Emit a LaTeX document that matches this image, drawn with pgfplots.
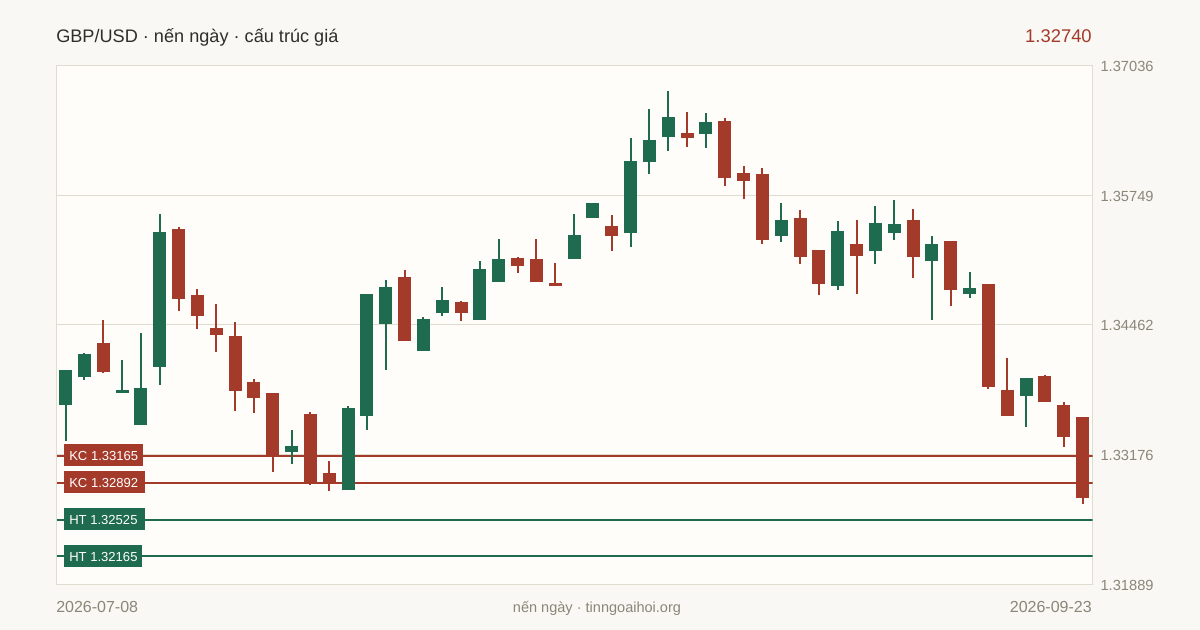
\documentclass[border=0pt]{standalone}
\usepackage{fontspec}
\setmainfont{Liberation Sans}
\usepackage{pgfplots}
\usepackage{pgfplotstable}
\pgfplotsset{compat=1.18}
\definecolor{bgc}{HTML}{F9F8F4}
\definecolor{plotc}{HTML}{FFFDF9}
\definecolor{gridc}{HTML}{E0DCCF}
\definecolor{upc}{HTML}{1E6B50}
\definecolor{downc}{HTML}{A43A2A}
\definecolor{axtext}{HTML}{8A8678}
\definecolor{titlec}{HTML}{2E2E2A}
% x open high low close
\pgfplotstableread{
x o h l c
0 1.33667 1.34014 1.33311 1.34014
1 1.33945 1.34183 1.33915 1.34173
3 1.33786 1.34113 1.33786 1.33816
4 1.33469 1.34381 1.33469 1.33836
5 1.34044 1.35560 1.33865 1.35381
12 1.33202 1.33420 1.33083 1.33261
15 1.32825 1.33657 1.32825 1.33638
16 1.33558 1.34767 1.33420 1.34767
17 1.34470 1.34906 1.34014 1.34836
19 1.34202 1.34539 1.34202 1.34519
20 1.34579 1.34836 1.34549 1.34708
22 1.34509 1.35094 1.34509 1.35015
23 1.34886 1.35312 1.34886 1.35114
27 1.35114 1.35560 1.35114 1.35352
28 1.35520 1.35669 1.35520 1.35669
30 1.35371 1.36313 1.35233 1.36085
31 1.36075 1.36600 1.35956 1.36293
32 1.36323 1.36778 1.36184 1.36521
34 1.36352 1.36560 1.36214 1.36471
38 1.35342 1.35669 1.35282 1.35500
41 1.34846 1.35490 1.34807 1.35391
43 1.35193 1.35640 1.35064 1.35470
44 1.35371 1.35698 1.35302 1.35460
46 1.35094 1.35342 1.34509 1.35262
48 1.34767 1.34985 1.34728 1.34827
51 1.33756 1.33935 1.33449 1.33935
}\upcandles
\pgfplotstableread{
x o h l c
2 1.34282 1.34509 1.33984 1.33994
6 1.35411 1.35431 1.34599 1.34718
7 1.34757 1.34817 1.34420 1.34549
8 1.34430 1.34668 1.34192 1.34361
9 1.34351 1.34490 1.33608 1.33806
10 1.33895 1.33925 1.33588 1.33737
11 1.33786 1.33786 1.33003 1.33162
13 1.33578 1.33598 1.32875 1.32894
14 1.32994 1.33112 1.32815 1.32894
18 1.34936 1.35005 1.34301 1.34301
21 1.34688 1.34698 1.34500 1.34579
24 1.35124 1.35134 1.34975 1.35045
25 1.35114 1.35312 1.34886 1.34886
26 1.34876 1.35074 1.34846 1.34846
29 1.35441 1.35550 1.35193 1.35342
33 1.36362 1.36570 1.36224 1.36313
35 1.36481 1.36511 1.35837 1.35916
36 1.35966 1.36035 1.35708 1.35887
37 1.35956 1.36016 1.35262 1.35302
39 1.35520 1.35599 1.35064 1.35134
40 1.35203 1.35203 1.34757 1.34866
42 1.35262 1.35500 1.34767 1.35144
45 1.35500 1.35609 1.34926 1.35134
47 1.35292 1.35292 1.34648 1.34807
49 1.34866 1.34866 1.33826 1.33846
50 1.33816 1.34133 1.33558 1.33558
52 1.33955 1.33965 1.33697 1.33697
53 1.33667 1.33697 1.33251 1.33350
54 1.33548 1.33548 1.32686 1.32740
}\downcandles
\pgfplotsset{
  candlewick/.style={draw=none, forget plot,
    error bars/.cd, y dir=plus, y explicit, error mark=none,
    error bar style={line width=1.5pt, draw=#1, fill=none, mark=none}},
  candlebody/.style={draw=none, forget plot,
    error bars/.cd, y dir=plus, y explicit, error mark=none,
    error bar style={line width=9.75pt, draw=#1, fill=none, mark=none}},
}
\newcommand{\wicks}[2]{\addplot[candlewick=#2] table[x=x, y=l, y error plus expr={\thisrow{h}-\thisrow{l}}] {#1};}
\newcommand{\bodies}[2]{\addplot[candlebody=#2] table[x=x, y expr={min(\thisrow{o},\thisrow{c})}, y error plus expr={abs(\thisrow{c}-\thisrow{o})}] {#1};}
\begin{document}
\begin{tikzpicture}[x=0.75pt,y=0.75pt]
\fill[bgc] (0,0) rectangle (1200,630);
\begin{axis}[
  at={(42.375pt,34.3pt)}, anchor=south west,
  scale only axis, width=777pt, height=389.25pt,
  xmin=-0.478, xmax=54.53, ymin=1.31889, ymax=1.37036,
  axis background/.style={fill=plotc},
  axis line style={draw=gridc, line width=0.75pt},
  xtick=\empty,
  ytick={1.31889,1.33176,1.34462,1.35749,1.37036},
  yticklabels={1.31889,1.33176,1.34462,1.35749,1.37036},
  yticklabel pos=right,
  tick style={draw=none},
  major tick length=0pt,
  ymajorgrids, grid style={draw=gridc, line width=0.75pt},
  yticklabel style={font=\fontsize{11}{13}\selectfont, text=axtext, anchor=west, xshift=2.5pt, yshift=-0.75pt},
]
\addplot[downc, line width=1.5pt, forget plot] coordinates {(-0.478,1.33165) (54.53,1.33165)};
\addplot[downc, line width=1.5pt, forget plot] coordinates {(-0.478,1.32892) (54.53,1.32892)};
\addplot[upc, line width=1.5pt, forget plot] coordinates {(-0.478,1.32525) (54.53,1.32525)};
\addplot[upc, line width=1.5pt, forget plot] coordinates {(-0.478,1.32165) (54.53,1.32165)};
\wicks{\upcandles}{upc}
\bodies{\upcandles}{upc}
\wicks{\downcandles}{downc}
\bodies{\downcandles}{downc}
\end{axis}
\node[anchor=base west, inner sep=0, text=titlec, font=\fontsize{13.6}{15}\selectfont] at (56,587) {GBP/USD · nến ngày · cấu trúc giá};
\node[anchor=base east, inner sep=0, text=downc, font=\fontsize{13.8}{16}\selectfont] at (1092,587) {1.32740};
\node[anchor=base west, inner sep=0, text=axtext, font=\fontsize{12}{13}\selectfont] at (56,17) {2026-07-08};
\node[anchor=base east, inner sep=0, text=axtext, font=\fontsize{12}{13}\selectfont] at (1092,17) {2026-09-23};
\node[anchor=base, inner sep=0, text=axtext, font=\fontsize{10.9}{13}\selectfont] at (597,17) {nến ngày · tinngoaihoi.org};
\fill[downc] (64,186) rectangle (143,164);
\node[anchor=base west, inner sep=0, text=white, font=\fontsize{9.8}{13}\selectfont] at (69,169.5) {KC 1.33165};
\fill[downc] (64,159) rectangle (145,137);
\node[anchor=base west, inner sep=0, text=white, font=\fontsize{9.8}{13}\selectfont] at (69,142) {KC 1.32892};
\fill[upc] (64,122) rectangle (145,100);
\node[anchor=base west, inner sep=0, text=white, font=\fontsize{9.8}{13}\selectfont] at (69,105) {HT 1.32525};
\fill[upc] (64,85) rectangle (142,63);
\node[anchor=base west, inner sep=0, text=white, font=\fontsize{9.8}{13}\selectfont] at (69,68.5) {HT 1.32165};
\end{tikzpicture}
\end{document}
